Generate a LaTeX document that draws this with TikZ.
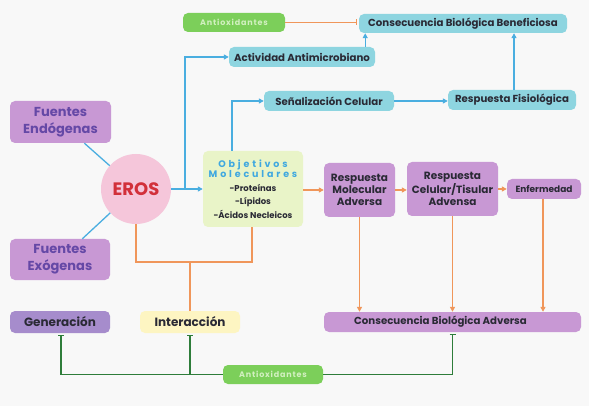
\documentclass[tikz,border=0pt]{standalone}
\usepackage{fontspec}
\setmainfont{Poppins}
\newfontfamily\spaced[LetterSpace=10]{Poppins}
\newfontfamily\wide[LetterSpace=30]{Poppins}
\usetikzlibrary{arrows.meta,calc}
\definecolor{bgc}{HTML}{F8F8F8}
\definecolor{cyanbox}{HTML}{8ED5E0}
\definecolor{cyanline}{HTML}{4AAEE0}
\definecolor{orangeline}{HTML}{F0965A}
\definecolor{greenbox}{HTML}{7CCF5A}
\definecolor{greentext}{HTML}{D2F0C0}
\definecolor{greenline}{HTML}{2E7D3A}
\definecolor{purplebox}{HTML}{C898D4}
\definecolor{purpletext}{HTML}{6548A6}
\definecolor{lavbox}{HTML}{A68CCC}
\definecolor{pinkc}{HTML}{F5C6DA}
\definecolor{erosred}{HTML}{D2303A}
\definecolor{objbox}{HTML}{E9F4C8}
\definecolor{objtext}{HTML}{3FA8E0}
\definecolor{interbox}{HTML}{FDF5C2}
\definecolor{darktext}{HTML}{2A2A35}
\tikzset{
  plainbox/.style={rounded corners=5pt, inner sep=0pt, text=darktext},
  box/.style={plainbox, align=center, font=\bfseries\fontsize{10.2}{12}\selectfont},
  cbox/.style={box, fill=cyanbox},
  pbox/.style={box, fill=purplebox},
  gbox/.style={box, fill=greenbox, text=greentext, font=\spaced\bfseries\fontsize{8}{10}\selectfont},
  bigp/.style={box, fill=purplebox, text=purpletext, font=\bfseries\fontsize{13}{17}\selectfont},
  cl/.style={draw=cyanline, line width=1.3pt},
  ca/.style={cl, -{Triangle[length=5pt,width=5pt]}},
  ol/.style={draw=orangeline, line width=1.3pt},
  oa/.style={ol, -{Triangle[length=5pt,width=5pt]}},
  gl/.style={draw=greenline, line width=1.3pt, -{Bar[width=6pt]}, shorten >=1.5pt},
  obar/.style={ol, -{Bar[width=6pt]}, shorten >=1.5pt},
}
\begin{document}
\begin{tikzpicture}[x=1pt,y=-1pt]
\fill[bgc] (0,0) rectangle (589,406);
\useasboundingbox (0,0) rectangle (589,406);
% top row
\node[gbox, minimum width=102pt, minimum height=19pt] (antiTop) at (234,22.5) {Antioxidantes};
\node[cbox, minimum width=208pt, minimum height=19pt] (benef) at (463,23.5) {Consecuencia Biológica Beneficiosa};
\node[cbox, minimum width=146pt, minimum height=20pt] (activ) at (302,57) {Actividad Antimicrobiano};
\node[cbox, minimum width=130pt, minimum height=20pt] (senal) at (329,101) {Señalización Celular};
\node[cbox, minimum width=128pt, minimum height=20pt] (fisio) at (512,100) {Respuesta Fisiológica};
% left
\node[bigp, minimum width=101pt, minimum height=42pt] (endo) at (60.5,122) {Fuentes\\Endógenas};
\node[bigp, minimum width=100pt, minimum height=41pt] (exo) at (60,259.5) {Fuentes\\Exógenas};
\node[circle, fill=pinkc, minimum size=70pt, inner sep=0pt, text=erosred, font=\bfseries\fontsize{18}{20}\selectfont] (eros) at (136,189) {EROS};
% objetivos
\node[plainbox, fill=objbox, minimum width=100pt, minimum height=76pt] (obj) at (253,189) {%
  \parbox{100pt}{\centering\color{objtext}\wide\bfseries\fontsize{9.5}{8.5}\selectfont Objetivos\\Moleculares\par
  \color{darktext}\normalfont\bfseries\fontsize{8.5}{13.5}\selectfont -Proteínas\\-Lípidos\\-Ácidos Necleicos\par}};
% purple chain
\node[pbox, minimum width=71pt, minimum height=54pt, font=\bfseries\fontsize{10.5}{12}\selectfont] (molec) at (359.5,190) {Respuesta\\Molecular\\Adversa};
\node[pbox, minimum width=91pt, minimum height=54pt, font=\bfseries\fontsize{10.5}{12}\selectfont] (celular) at (452.5,189) {Respuesta\\Celular/Tisular\\Advensa};
\node[pbox, minimum width=74pt, minimum height=20pt, font=\bfseries\fontsize{9}{10}\selectfont] (enferm) at (544,189) {Enfermedad};
\node[pbox, minimum width=257pt, minimum height=20pt] (adversa) at (452.5,322) {Consecuencia Biológica Adversa\hspace*{24pt}};
% bottom
\node[box, fill=lavbox, minimum width=100pt, minimum height=22pt, font=\bfseries\fontsize{12}{14}\selectfont] (gener) at (60,322) {Generación};
\node[box, fill=interbox, minimum width=100pt, minimum height=22pt, font=\bfseries\fontsize{12}{14}\selectfont] (inter) at (190,322) {Interacción};
\node[gbox, minimum width=100pt, minimum height=19pt] (antiBot) at (273,374.5) {Antioxidantes};
% cyan connectors
\draw[cl] (endo) -- (eros);
\draw[cl] (exo) -- (eros);
\draw[ca] (eros) -- (obj);
\coordinate (b1) at (185,189);
\draw[ca] (b1) |- (activ.west);
\draw[ca] ([xshift=-21pt]obj.north) |- (senal.west);
\draw[ca] (senal.east) -- (senal.east -| fisio.west);
\draw[ca] ([xshift=2pt]fisio.north) -- ([xshift=2pt]fisio.north |- benef.south);
\draw[ca] ([xshift=-10pt]activ.north east) -- ([xshift=-10pt]activ.north east |- benef.south);
% orange
\draw[obar] (antiTop.east) -- (antiTop.east -| benef.west);
\draw[oa] (obj.east |- molec.west) -- (molec.west);
\draw[oa] (molec.east) -- (molec.east -| celular.west);
\draw[oa] (celular.east) -- (enferm.west);
\draw[oa] (molec.south) -- (molec.south |- adversa.north);
\draw[oa] (celular.south) -- (celular.south |- adversa.north);
\draw[oa] ([xshift=-1pt]enferm.south) -- ([xshift=-1pt]enferm.south |- adversa.north);
\coordinate (j) at (190,262);
\draw[ol] (eros.south) |- (j) -| ([xshift=-1pt]obj.south);
\draw[ol] (j) -- (inter.north);
% green
\coordinate (gj) at (inter.south |- antiBot.west);
\draw[gl] (antiBot.west) -| ([xshift=1pt]gener.south);
\draw[gl] (gj) -- (inter.south);
\draw[gl] (antiBot.east) -| (adversa.south);
\end{tikzpicture}
\end{document}
